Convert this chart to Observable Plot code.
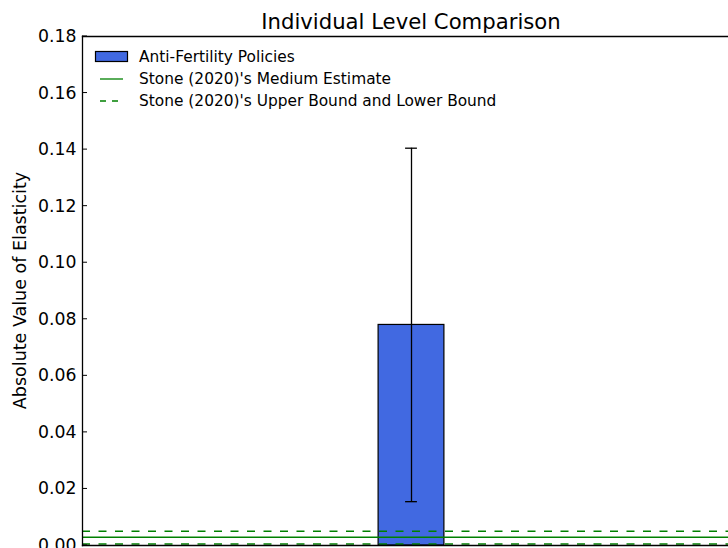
<!DOCTYPE html>
<html>
<head>
<meta charset="utf-8">
<script src="https://cdn.jsdelivr.net/npm/d3@7"></script>
<script src="https://cdn.jsdelivr.net/npm/@observablehq/plot@0.6"></script>
<style>
  body { margin: 0; background: white; }
  #chart { position: relative; width: 728px; height: 548px; overflow: hidden; }
</style>
</head>
<body>
<div id="chart"></div>
<script>
// datos
const categorias = ["Anti-Fertility Policies"]
const posiciones = [0]
const valores = [0.078]
const errInferior = [0.0155]
const errSuperior = [0.1405]

const stoneMedio = [0.0029]
const stoneLimites = [0.0005, 0.0050]

const ticksY = [0, 0.02, 0.04, 0.06, 0.08, 0.10, 0.12, 0.14, 0.16, 0.18]

const barras = categorias.map((c, i) => ({
  categoria: c, x: posiciones[i], valor: valores[i], lo: errInferior[i], hi: errSuperior[i]
}))

const anchoBarra = 0.1
const anchoCap = 0.009
const fuente = "DejaVu Sans, sans-serif"
const verde = "#008000"

let chart = Plot.plot({
  width: 728,
  height: 548,
  marginLeft: 82,
  marginRight: 0,
  marginTop: 36,
  marginBottom: 3,
  style: {fontFamily: fuente, fontSize: "17px", color: "black", background: "white"},
  x: {domain: [-0.5, 0.5], range: [82, 740], axis: null},
  y: {domain: [0, 0.18], label: null},
  marks: [
    Plot.rectY(barras, {
      x1: d => d.x - anchoBarra / 2, x2: d => d.x + anchoBarra / 2,
      y1: 0, y2: "valor", fill: "#4169E1", stroke: "black", strokeWidth: 1.2
    }),
    Plot.ruleY(stoneMedio, {stroke: verde, strokeWidth: 1.5}),
    Plot.ruleY(stoneLimites, {stroke: verde, strokeWidth: 1.5, strokeDasharray: "8,8.5"}),
    Plot.ruleX(barras, {x: "x", y1: "lo", y2: "hi", stroke: "black", strokeWidth: 1.3}),
    Plot.ruleY(barras, {y: "lo", x1: d => d.x - anchoCap, x2: d => d.x + anchoCap, stroke: "black", strokeWidth: 1.3}),
    Plot.ruleY(barras, {y: "hi", x1: d => d.x - anchoCap, x2: d => d.x + anchoCap, stroke: "black", strokeWidth: 1.3}),
    Plot.axisY({ticks: ticksY, tickFormat: d3.format(".2f"), tickSize: 0, tickPadding: 6, fontSize: 17.3, label: null}),
    Plot.frame({anchor: "left", stroke: "black", strokeWidth: 1.3}),
    Plot.frame({anchor: "top", stroke: "black", strokeWidth: 1.3}),
    Plot.frame({anchor: "bottom", stroke: "black", strokeWidth: 1.3})
  ]
})

d3.select('#chart').append(() => chart)

// ticks hacia adentro y textos extra (estilo matplotlib)
const svg = d3.select(chart)
const y = chart.scale("y")
svg.append("g").selectAll("line").data(ticksY).join("line")
  .attr("x1", 82).attr("x2", 87)
  .attr("y1", d => y.apply(d)).attr("y2", d => y.apply(d))
  .attr("stroke", "black").attr("stroke-width", 1)

svg.append("text")
  .attr("x", 411).attr("y", 29)
  .attr("text-anchor", "middle")
  .attr("font-family", fuente).attr("font-size", 21.2)
  .text("Individual Level Comparison")

svg.append("text")
  .attr("transform", `translate(26, ${(36 + 545) / 2}) rotate(-90)`)
  .attr("text-anchor", "middle")
  .attr("font-family", fuente).attr("font-size", 17.5)
  .text("Absolute Value of Elasticity")

// leyenda
const ley = svg.append("g").attr("font-family", fuente).attr("font-size", 15.4)
ley.append("rect").attr("x", 95.5).attr("y", 51.5).attr("width", 32).attr("height", 10)
  .attr("fill", "#4169E1").attr("stroke", "black").attr("stroke-width", 1.2)
ley.append("line").attr("x1", 100).attr("x2", 123).attr("y1", 79).attr("y2", 79)
  .attr("stroke", verde).attr("stroke-width", 1.3)
ley.append("line").attr("x1", 100).attr("x2", 124).attr("y1", 101).attr("y2", 101)
  .attr("stroke", verde).attr("stroke-width", 1.5).attr("stroke-dasharray", "6,6")
const textos = [categorias[0], "Stone (2020)'s Medium Estimate", "Stone (2020)'s Upper Bound and Lower Bound"]
ley.selectAll("text.l").data(textos).join("text")
  .attr("x", 139).attr("y", (d, i) => 57 + i * 22)
  .attr("dy", "0.35em")
  .attr("text-anchor", "start")
  .attr("fill", "black")
  .text(d => d)
</script>
</body>
</html>
